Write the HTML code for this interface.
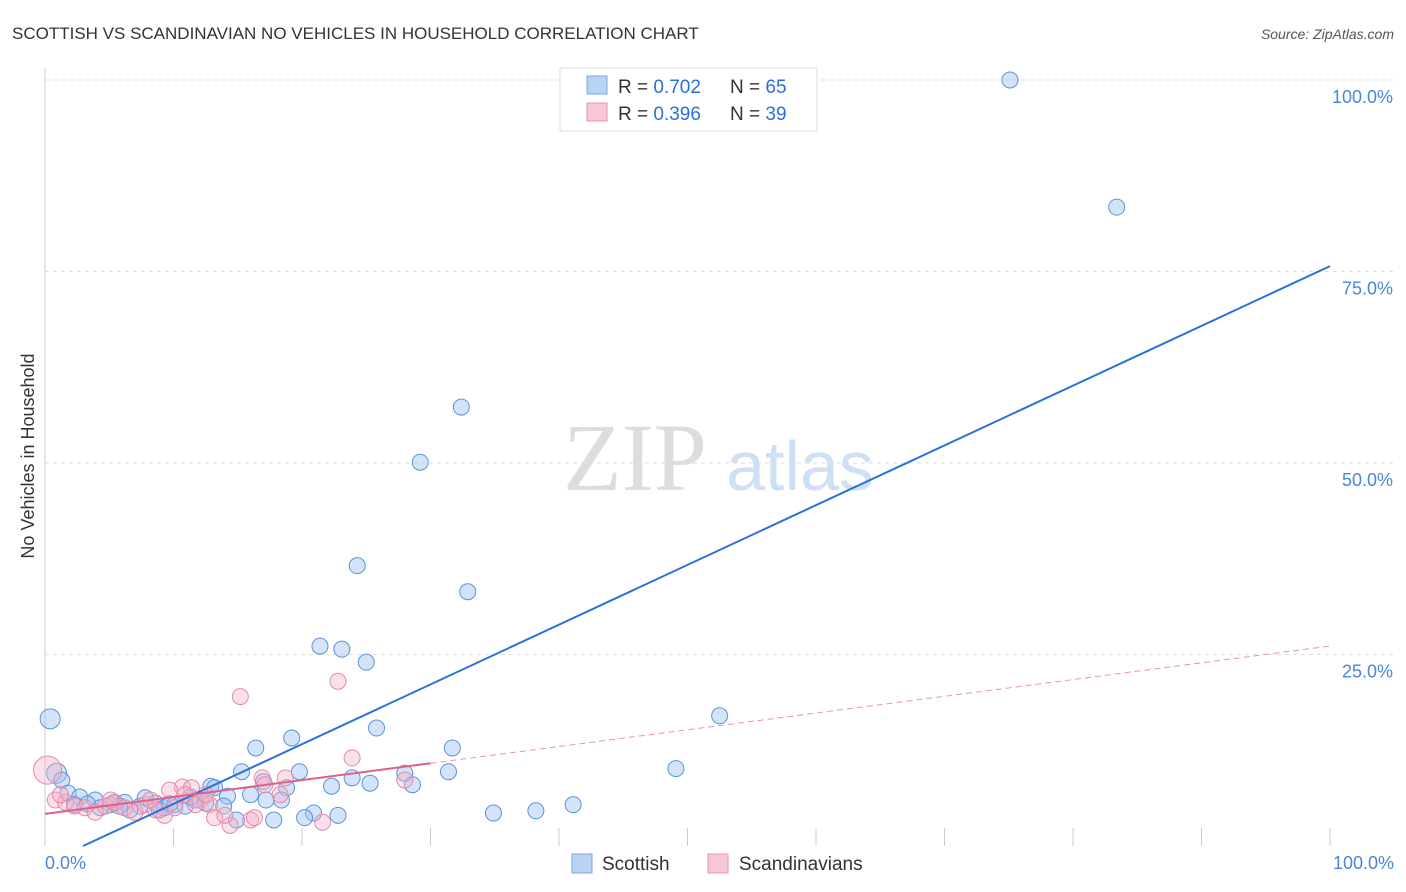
<!DOCTYPE html>
<html><head><meta charset="utf-8"><style>
body{margin:0;background:#fff;font-family:"Liberation Sans",sans-serif;}
svg{display:block}
</style></head><body>
<svg id="chart" width="1406" height="892" font-family="Liberation Sans, sans-serif">
<text x="12" y="39" font-size="17" fill="#333">SCOTTISH VS SCANDINAVIAN NO VEHICLES IN HOUSEHOLD CORRELATION CHART</text>
<text x="1394" y="39" font-size="14" fill="#555" text-anchor="end" font-style="italic">Source: ZipAtlas.com</text>
<text x="34" y="456" font-size="18" fill="#333" text-anchor="middle" transform="rotate(-90 34 456)">No Vehicles in Household</text>
<text x="635" y="490" font-size="96" fill="#ddd" text-anchor="middle" font-family="Liberation Serif, serif">ZIP</text>
<text x="800" y="490" font-size="70" fill="#cfe0f5" text-anchor="middle">atlas</text>
<g id="grid"></g><g id="marks"></g>
<g>
<rect x="560" y="68" width="257" height="63" fill="#fff" stroke="#ddd"/>
<rect x="587" y="76" width="20" height="18" fill="#b9d3f5" stroke="#7aa7e0"/>
<text x="618" y="93" font-size="19" fill="#333">R = <tspan fill="#2b6fd6">0.702</tspan></text>
<text x="730" y="93" font-size="19" fill="#333">N = <tspan fill="#2b6fd6">65</tspan></text>
<rect x="587" y="103" width="20" height="18" fill="#f8c6d6" stroke="#e896b0"/>
<text x="618" y="120" font-size="19" fill="#333">R = <tspan fill="#2b6fd6">0.396</tspan></text>
<text x="730" y="120" font-size="19" fill="#333">N = <tspan fill="#2b6fd6">39</tspan></text>
</g>
<g>
<rect x="572" y="854" width="20" height="19" fill="#b9d3f5" stroke="#7aa7e0"/>
<text x="602" y="870" font-size="19" fill="#333">Scottish</text>
<rect x="708" y="854" width="20" height="19" fill="#f8c6d6" stroke="#e896b0"/>
<text x="739" y="870" font-size="19" fill="#333">Scandinavians</text>
</g>
<text x="45" y="869" font-size="18" fill="#4a86d8">0.0%</text>
<text x="1394" y="869" font-size="18" fill="#4a86d8" text-anchor="end">100.0%</text>
</svg>
<script>
const yTicks=[25,50,75,100];
const yTickLabels=["25.0%","50.0%","75.0%","100.0%"];
const xTicks=[10,20,30,40,50,60,70,80,90,100];
const scottishX=[75.1,83.4,32.4,29.2,24.3,32.9,21.4,23.1,25.0,0.4,52.5,25.8,19.2,16.4,31.7,0.9,1.3,15.3,19.8,31.4,49.1,28.0,23.9,25.3,28.6,22.3,17.0,18.8,12.9,13.2,16.0,17.2,18.4,14.2,13.9,41.1,38.2,34.9,20.9,22.8,20.2,17.8,14.9,1.8,2.7,3.9,5.1,6.2,7.4,8.6,9.3,10.1,10.9,11.7,12.5,7.8,2.3,4.3,6.6,8.9,11.3,5.4,3.3,9.7,5.8];
const scottishY=[100.0,83.4,57.3,50.1,36.6,33.2,26.1,25.7,24.0,16.6,17.0,15.4,14.1,12.8,12.8,9.5,8.6,9.7,9.7,9.7,10.1,9.5,8.9,8.2,8.0,7.8,8.4,7.6,7.8,7.6,6.7,6.0,6.0,6.5,5.2,5.4,4.6,4.3,4.3,4.0,3.7,3.4,3.4,6.9,6.4,6.0,5.4,5.7,5.2,5.6,5.0,5.4,5.2,6.0,5.6,6.3,5.4,5.0,4.7,4.7,6.4,5.7,5.5,5.5,5.2];
const scandX=[0.2,0.8,1.6,2.3,3.1,3.9,4.7,5.4,6.2,7.0,7.8,8.6,9.3,10.1,10.7,11.4,12.1,12.8,13.2,14.4,15.2,16.9,17.1,18.7,22.8,23.9,28.0,18.3,16.0,16.3,21.6,9.7,1.2,5.1,8.2,10.9,11.7,12.5,14.0];
const scandY=[9.9,6.0,5.7,5.2,5.0,4.4,5.2,5.6,5.0,4.4,5.4,4.7,4.0,5.0,7.7,7.6,6.0,5.4,3.7,2.7,19.5,8.9,8.0,8.9,21.5,11.5,8.6,6.7,3.4,3.7,3.1,7.3,6.7,6.0,6.0,6.7,5.4,6.7,4.0];
const blueLine=[2.96,0,100,75.7];
const pinkLine=[0,4.2,30,10.8,100,26.1];
const X=v=>45+v*12.85, Y=v=>846-v*7.66;
const NS="http://www.w3.org/2000/svg";
const grid=document.getElementById('grid'), marks=document.getElementById('marks');
function mk(t,a,p){const e=document.createElementNS(NS,t);for(const k in a)e.setAttribute(k,a[k]);p.appendChild(e);return e;}
let ax=mk('line',{x1:45,y1:68,x2:45,y2:846,stroke:'#ccc'},grid);


yTicks.forEach((t,i)=>{
 const l=mk('line',{x1:45,x2:1394,y1:Y(t),y2:Y(t),stroke:'#ddd','stroke-dasharray':'4,4'},grid);
 
 
 const tx=mk('text',{x:1393,y:Y(t)+23,'font-size':18,fill:'#4a86d8','text-anchor':'end'},grid);
 tx.textContent=yTickLabels[i];
 
 
});
xTicks.forEach(t=>{
 const l=mk('line',{x1:X(t),x2:X(t),y1:828,y2:846,stroke:'#ccc'},grid);
 
 
});
scottishX.forEach((x,i)=>{
 const c=mk('circle',{cx:X(x),cy:Y(scottishY[i]),r:x<1?10:8,fill:'rgba(160,195,240,0.45)',stroke:'#5b93dc','stroke-width':1},marks);
 
 
});
scandX.forEach((x,i)=>{
 const c=mk('circle',{cx:X(x),cy:Y(scandY[i]),r:x<0.5?14:8,fill:'rgba(245,175,200,0.4)',stroke:'#e58aa9','stroke-width':1},marks);
 
 
});
let bl=mk('line',{x1:X(blueLine[0]),y1:Y(blueLine[1]),x2:X(blueLine[2]),y2:Y(blueLine[3]),stroke:'#2a72d8','stroke-width':2},marks);


let pl=mk('line',{x1:X(pinkLine[0]),y1:Y(pinkLine[1]),x2:X(pinkLine[2]),y2:Y(pinkLine[3]),stroke:'#e0608a','stroke-width':2},marks);


let pd=mk('line',{x1:X(pinkLine[2]),y1:Y(pinkLine[3]),x2:X(pinkLine[4]),y2:Y(pinkLine[5]),stroke:'#e795b0','stroke-width':1,'stroke-dasharray':'6,4'},marks);


</script>
</body></html>
